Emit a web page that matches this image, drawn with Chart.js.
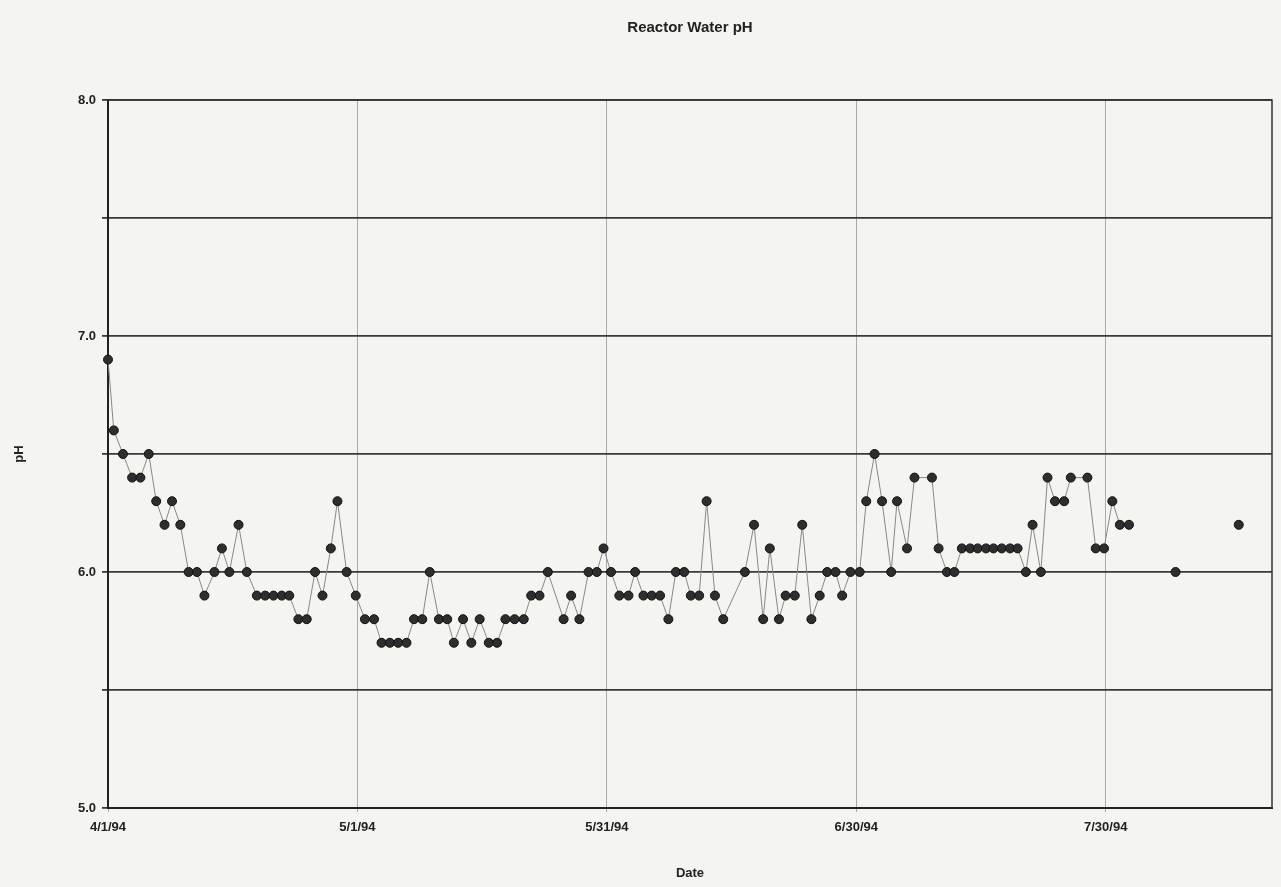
<!DOCTYPE html>
<html>
<head>
<meta charset="utf-8">
<script src="https://cdn.jsdelivr.net/npm/chart.js@4/dist/chart.umd.min.js"></script>
<style>
  html, body { margin: 0; padding: 0; background: #f4f4f1; }
  #wrap { width: 1281px; height: 887px; position: relative; }
</style>
</head>
<body>
<div id="wrap"><canvas id="chart"></canvas></div>
<script>
// days after 4/1/94
const days = [
  0, 0.7, 1.8, 2.9, 3.9, 4.9, 5.8, 6.8, 7.7, 8.7,
  9.7, 10.7, 11.6, 12.8, 13.7, 14.6, 15.7, 16.7, 17.9, 18.9,
  19.9, 20.9, 21.8, 22.9, 23.9, 24.9, 25.8, 26.8, 27.6, 28.7,
  29.8, 30.9, 32.0, 32.9, 33.9, 34.9, 35.9, 36.8, 37.8, 38.7,
  39.8, 40.8, 41.6, 42.7, 43.7, 44.7, 45.8, 46.8, 47.8, 48.9,
  50.0, 50.9, 51.9, 52.9, 54.8, 55.7, 56.7, 57.8, 58.8, 59.6,
  60.5, 61.5, 62.6, 63.4, 64.4, 65.4, 66.4, 67.4, 68.3, 69.3,
  70.1, 71.1, 72.0, 73.0, 74.0, 76.6, 77.7, 78.8, 79.6, 80.7,
  81.5, 82.6, 83.5, 84.6, 85.6, 86.5, 87.5, 88.3, 89.3, 90.4,
  91.2, 92.2, 93.1, 94.2, 94.9, 96.1, 97.0, 99.1, 99.9, 100.9,
  101.8, 102.7, 103.7, 104.6, 105.6, 106.5, 107.5, 108.5, 109.4, 110.4,
  111.2, 112.2, 113.0, 113.9, 115.0, 115.8, 117.8, 118.8, 119.8, 120.8,
  121.7, 122.8, 128.4, 136.0
];

const ph = [
  6.9, 6.6, 6.5, 6.4, 6.4, 6.5, 6.3, 6.2, 6.3, 6.2,
  6.0, 6.0, 5.9, 6.0, 6.1, 6.0, 6.2, 6.0, 5.9, 5.9,
  5.9, 5.9, 5.9, 5.8, 5.8, 6.0, 5.9, 6.1, 6.3, 6.0,
  5.9, 5.8, 5.8, 5.7, 5.7, 5.7, 5.7, 5.8, 5.8, 6.0,
  5.8, 5.8, 5.7, 5.8, 5.7, 5.8, 5.7, 5.7, 5.8, 5.8,
  5.8, 5.9, 5.9, 6.0, 5.8, 5.9, 5.8, 6.0, 6.0, 6.1,
  6.0, 5.9, 5.9, 6.0, 5.9, 5.9, 5.9, 5.8, 6.0, 6.0,
  5.9, 5.9, 6.3, 5.9, 5.8, 6.0, 6.2, 5.8, 6.1, 5.8,
  5.9, 5.9, 6.2, 5.8, 5.9, 6.0, 6.0, 5.9, 6.0, 6.0,
  6.3, 6.5, 6.3, 6.0, 6.3, 6.1, 6.4, 6.4, 6.1, 6.0,
  6.0, 6.1, 6.1, 6.1, 6.1, 6.1, 6.1, 6.1, 6.1, 6.0,
  6.2, 6.0, 6.4, 6.3, 6.3, 6.4, 6.4, 6.1, 6.1, 6.3,
  6.2, 6.2, 6.0, 6.2
];

const xTickDays = [0, 30, 60, 90, 120];
const xTickLabels = ["4/1/94", "5/1/94", "5/31/94", "6/30/94", "7/30/94"];
const yTickValues = [5, 6, 7, 8];
const yTickLabels = ["5.0", "6.0", "7.0", "8.0"];

const points = days.map((d, i) => ({ x: d, y: ph[i] }));

// outline of the plot box (top and right edges)
const frame = {
  id: "frame",
  afterDraw(chart) {
    const { ctx, chartArea: a } = chart;
    ctx.save();
    ctx.strokeStyle = "#333";
    ctx.lineWidth = 1.5;
    ctx.beginPath();
    ctx.moveTo(a.left, a.top);
    ctx.lineTo(a.right, a.top);
    ctx.lineTo(a.right, a.bottom);
    ctx.stroke();
    ctx.restore();
  }
};

Chart.defaults.font.family = "'Liberation Sans', Arial, sans-serif";
Chart.defaults.color = "#222";

new Chart(document.getElementById("chart"), {
  type: "line",
  data: {
    datasets: [{
      data: points,
      borderColor: "#888",
      borderWidth: 1,
      pointRadius: 4.5,
      pointBackgroundColor: "#2e2e2e",
      pointBorderColor: "#111",
      pointBorderWidth: 1,
      tension: 0,
      clip: false,
      segment: {
        borderColor: ctx => (ctx.p1.parsed.x - ctx.p0.parsed.x > 4 ? "rgba(0,0,0,0)" : "#888")
      }
    }]
  },
  options: {
    responsive: true,
    maintainAspectRatio: false,
    animation: false,
    layout: { padding: { left: 0, right: 9, top: 0, bottom: 0 } },
    plugins: {
      legend: { display: false },
      tooltip: { enabled: false },
      title: {
        display: true,
        text: "Reactor Water pH",
        fullSize: false,
        font: { size: 15, weight: "bold" },
        color: "#222",
        padding: { top: 19, bottom: 63 }
      }
    },
    scales: {
      x: {
        type: "linear",
        min: 0,
        max: 140,
        afterFit: s => { s.height = 79; },
        afterBuildTicks: s => { s.ticks = xTickDays.map(v => ({ value: v })); },
        ticks: {
          callback: v => xTickLabels[xTickDays.indexOf(v)] || "",
          font: { size: 13, weight: "bold" },
          maxRotation: 0,
          padding: 8
        },
        grid: { color: "#aaa", lineWidth: 1, tickLength: 4 },
        border: { color: "#222", width: 2 },
        title: {
          display: true,
          text: "Date",
          font: { size: 13, weight: "bold" },
          padding: { top: 0, bottom: 6 }
        }
      },
      y: {
        min: 5,
        max: 8,
        afterFit: s => { s.width = 108; },
        ticks: {
          stepSize: 0.5,
          callback: v => {
            const i = yTickValues.indexOf(v);
            return i >= 0 ? yTickLabels[i] : "";
          },
          font: { size: 13, weight: "bold" },
          padding: 6
        },
        grid: { color: "#3a3a3a", lineWidth: 1.8, tickLength: 6 },
        border: { color: "#222", width: 2 },
        title: {
          display: true,
          text: "pH",
          font: { size: 13, weight: "bold" },
          padding: { top: 12, bottom: 0 }
        }
      }
    }
  },
  plugins: [frame]
});
</script>
</body>
</html>
